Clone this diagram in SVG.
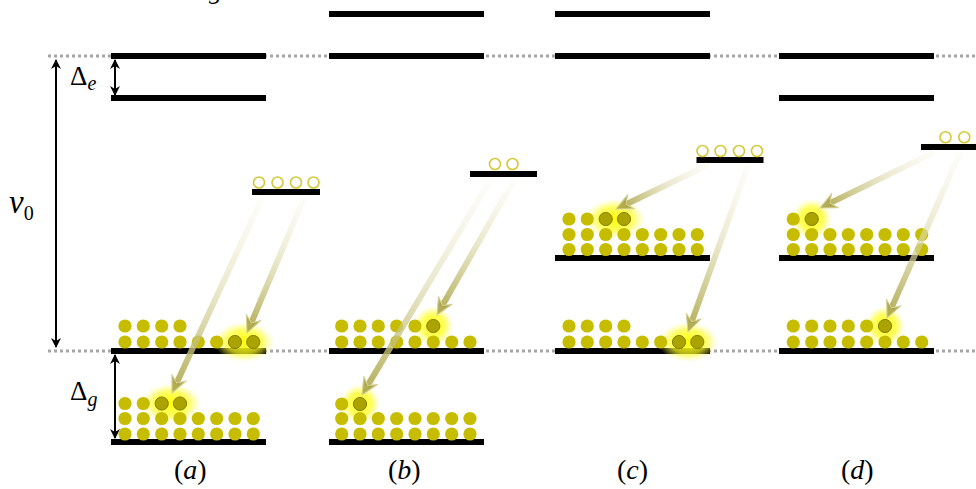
<svg xmlns="http://www.w3.org/2000/svg" xmlns:xlink="http://www.w3.org/1999/xlink" width="976" height="489" viewBox="0 0 976 489">
<style>
.bar{fill:#000}
.dot{fill:#c6bd00}
.hot{fill:#aba300;stroke:#857f00;stroke-width:1}
.open{fill:#fff;stroke:#d4c93a;stroke-width:1.6}
.dotted{stroke:#a6a6a6;stroke-width:3;stroke-dasharray:3 3;fill:none}
.dim{stroke:#000;stroke-width:2;fill:none}
.math{font-family:"Liberation Serif","DejaVu Serif",serif;fill:#000}
.it{font-style:italic}
.shaft{fill:url(#sg)}
.head{fill:#a69f3c;fill-opacity:0.85;stroke:#d6d29a;stroke-width:1}
</style>
<defs>
<circle id="d" r="6.6"/>
<radialGradient id="glow">
<stop offset="0" stop-color="#ffff00" stop-opacity="1"/>
<stop offset="0.6" stop-color="#ffff20" stop-opacity="0.7"/>
<stop offset="1" stop-color="#ffff60" stop-opacity="0"/>
</radialGradient>
<linearGradient id="sg" x1="0" y1="0" x2="1" y2="0">
<stop offset="0" stop-color="#f4f3e0" stop-opacity="0.2"/>
<stop offset="0.5" stop-color="#dedbb0" stop-opacity="0.65"/>
<stop offset="1" stop-color="#b0aa50" stop-opacity="0.9"/>
</linearGradient>
<marker id="ah" viewBox="0 0 10 10" refX="9" refY="5" markerWidth="5" markerHeight="5" orient="auto-start-reverse">
<path d="M0,0 L10,5 L0,10 L3,5 z" fill="#000"/>
</marker>
</defs>

<!-- clipped label fragment at top -->
<text class="math it" x="209" y="-1" font-size="26">g</text>

<!-- reference dotted lines -->
<g id="guides">
<line class="dotted" x1="48" y1="56" x2="976" y2="56"/>
<line class="dotted" x1="48" y1="351" x2="976" y2="351"/>
</g>

<!-- dimension arrows -->
<g id="dimensions">
<line class="dim" x1="56" y1="60" x2="56" y2="347" marker-start="url(#ah)" marker-end="url(#ah)"/>
<line class="dim" x1="115" y1="60" x2="115" y2="95" marker-start="url(#ah)" marker-end="url(#ah)"/>
<line class="dim" x1="115" y1="355" x2="115" y2="438" marker-start="url(#ah)" marker-end="url(#ah)"/>
<text class="math" x="9" y="213" font-size="33"><tspan class="it">ν</tspan><tspan font-size="20" dy="7">0</tspan></text>
<text class="math" x="70" y="85" font-size="27">Δ<tspan class="it" font-size="20" dy="5">e</tspan></text>
<text class="math" x="70" y="400" font-size="27">Δ<tspan class="it" font-size="20" dy="6">g</tspan></text>
</g>

<!-- panel (a) -->
<g id="panel-a">
<rect class="bar" x="111" y="53" width="155" height="6"/>
<rect class="bar" x="111" y="95" width="155" height="6"/>
<rect class="bar" x="111" y="348" width="155" height="6"/>
<rect class="bar" x="111" y="439" width="155" height="6"/>
<rect class="bar" x="252" y="189" width="68" height="6"/>
<g class="open">
<circle cx="259" cy="182.5" r="5.5"/><circle cx="277.5" cy="182.5" r="5.5"/><circle cx="296" cy="182.5" r="5.5"/><circle cx="313.5" cy="182.5" r="5.5"/>
</g>
<ellipse cx="244" cy="342" rx="30" ry="20" fill="url(#glow)"/>
<ellipse cx="171" cy="403.5" rx="30" ry="20" fill="url(#glow)"/>
<g class="dot">
<use href="#d" x="125" y="326"/><use href="#d" x="143.3" y="326"/><use href="#d" x="161.7" y="326"/><use href="#d" x="180" y="326"/>
<use href="#d" x="125" y="342"/><use href="#d" x="143.3" y="342"/><use href="#d" x="161.7" y="342"/><use href="#d" x="180" y="342"/><use href="#d" x="198.3" y="342"/><use href="#d" x="216.7" y="342"/>
<use href="#d" x="125" y="403.5"/><use href="#d" x="143.3" y="403.5"/>
<use href="#d" x="125" y="418.5"/><use href="#d" x="143.3" y="418.5"/><use href="#d" x="161.7" y="418.5"/><use href="#d" x="180" y="418.5"/><use href="#d" x="198.3" y="418.5"/><use href="#d" x="216.7" y="418.5"/><use href="#d" x="235" y="418.5"/><use href="#d" x="253.3" y="418.5"/>
<use href="#d" x="125" y="434"/><use href="#d" x="143.3" y="434"/><use href="#d" x="161.7" y="434"/><use href="#d" x="180" y="434"/><use href="#d" x="198.3" y="434"/><use href="#d" x="216.7" y="434"/><use href="#d" x="235" y="434"/><use href="#d" x="253.3" y="434"/>
</g>
<g class="hot">
<use href="#d" x="235" y="342"/><use href="#d" x="253.3" y="342"/>
<use href="#d" x="161.7" y="403.5"/><use href="#d" x="180" y="403.5"/>
</g>
<text class="math" x="174" y="479" font-size="28">(<tspan class="it">a</tspan>)</text>
</g>

<!-- panel (b) -->
<g id="panel-b">
<rect class="bar" x="329" y="11" width="155" height="6"/>
<rect class="bar" x="329" y="53" width="155" height="6"/>
<rect class="bar" x="329" y="348" width="155" height="6"/>
<rect class="bar" x="329" y="439" width="155" height="6"/>
<rect class="bar" x="470" y="171" width="67" height="6"/>
<g class="open">
<circle cx="495" cy="164" r="5.5"/><circle cx="512.5" cy="164" r="5.5"/>
</g>
<circle cx="433.3" cy="326" r="20" fill="url(#glow)"/>
<circle cx="360" cy="404" r="20" fill="url(#glow)"/>
<g class="dot">
<use href="#d" x="341.7" y="326"/><use href="#d" x="360" y="326"/><use href="#d" x="378.3" y="326"/><use href="#d" x="396.7" y="326"/><use href="#d" x="415" y="326"/>
<use href="#d" x="341.7" y="342"/><use href="#d" x="360" y="342"/><use href="#d" x="378.3" y="342"/><use href="#d" x="396.7" y="342"/><use href="#d" x="415" y="342"/><use href="#d" x="433.3" y="342"/><use href="#d" x="451.7" y="342"/><use href="#d" x="470" y="342"/>
<use href="#d" x="341.7" y="404"/>
<use href="#d" x="341.7" y="418.5"/><use href="#d" x="360" y="418.5"/><use href="#d" x="378.3" y="418.5"/><use href="#d" x="396.7" y="418.5"/><use href="#d" x="415" y="418.5"/><use href="#d" x="433.3" y="418.5"/><use href="#d" x="451.7" y="418.5"/><use href="#d" x="470" y="418.5"/>
<use href="#d" x="341.7" y="434"/><use href="#d" x="360" y="434"/><use href="#d" x="378.3" y="434"/><use href="#d" x="396.7" y="434"/><use href="#d" x="415" y="434"/><use href="#d" x="433.3" y="434"/><use href="#d" x="451.7" y="434"/><use href="#d" x="470" y="434"/>
</g>
<g class="hot">
<use href="#d" x="433.3" y="326"/>
<use href="#d" x="360" y="404"/>
</g>
<text class="math" x="388" y="479" font-size="28">(<tspan class="it">b</tspan>)</text>
</g>

<!-- panel (c) -->
<g id="panel-c">
<rect class="bar" x="555" y="11" width="155" height="6"/>
<rect class="bar" x="555" y="53" width="155" height="6"/>
<rect class="bar" x="555" y="255" width="155" height="6"/>
<rect class="bar" x="555" y="348" width="155" height="6"/>
<rect class="bar" x="696.5" y="157" width="67" height="6"/>
<g class="open">
<circle cx="702.5" cy="151" r="5.5"/><circle cx="720.5" cy="151" r="5.5"/><circle cx="739" cy="151" r="5.5"/><circle cx="757" cy="151" r="5.5"/>
</g>
<ellipse cx="615" cy="219" rx="30" ry="20" fill="url(#glow)"/>
<ellipse cx="688" cy="342" rx="30" ry="20" fill="url(#glow)"/>
<g class="dot">
<use href="#d" x="569" y="219"/><use href="#d" x="587.3" y="219"/>
<use href="#d" x="569" y="234.5"/><use href="#d" x="587.3" y="234.5"/><use href="#d" x="605.7" y="234.5"/><use href="#d" x="624" y="234.5"/><use href="#d" x="642.3" y="234.5"/><use href="#d" x="660.7" y="234.5"/><use href="#d" x="679" y="234.5"/><use href="#d" x="697.3" y="234.5"/>
<use href="#d" x="569" y="249.5"/><use href="#d" x="587.3" y="249.5"/><use href="#d" x="605.7" y="249.5"/><use href="#d" x="624" y="249.5"/><use href="#d" x="642.3" y="249.5"/><use href="#d" x="660.7" y="249.5"/><use href="#d" x="679" y="249.5"/><use href="#d" x="697.3" y="249.5"/>
<use href="#d" x="569" y="326"/><use href="#d" x="587.3" y="326"/><use href="#d" x="605.7" y="326"/><use href="#d" x="624" y="326"/>
<use href="#d" x="569" y="342"/><use href="#d" x="587.3" y="342"/><use href="#d" x="605.7" y="342"/><use href="#d" x="624" y="342"/><use href="#d" x="642.3" y="342"/><use href="#d" x="660.7" y="342"/>
</g>
<g class="hot">
<use href="#d" x="605.7" y="219"/><use href="#d" x="624" y="219"/>
<use href="#d" x="679" y="342"/><use href="#d" x="697.3" y="342"/>
</g>
<text class="math" x="617" y="479" font-size="28">(<tspan class="it">c</tspan>)</text>
</g>

<!-- panel (d) -->
<g id="panel-d">
<rect class="bar" x="779" y="53" width="155" height="6"/>
<rect class="bar" x="779" y="95" width="155" height="6"/>
<rect class="bar" x="779" y="255" width="155" height="6"/>
<rect class="bar" x="779" y="348" width="155" height="6"/>
<rect class="bar" x="921" y="144" width="55" height="6"/>
<g class="open">
<circle cx="945.5" cy="137.3" r="5.5"/><circle cx="964.3" cy="137.3" r="5.5"/>
</g>
<circle cx="811.7" cy="219" r="20" fill="url(#glow)"/>
<circle cx="885" cy="326" r="20" fill="url(#glow)"/>
<g class="dot">
<use href="#d" x="793.3" y="219"/>
<use href="#d" x="793.3" y="234.5"/><use href="#d" x="811.7" y="234.5"/><use href="#d" x="830" y="234.5"/><use href="#d" x="848.3" y="234.5"/><use href="#d" x="866.7" y="234.5"/><use href="#d" x="885" y="234.5"/><use href="#d" x="903.3" y="234.5"/><use href="#d" x="921.7" y="234.5"/>
<use href="#d" x="793.3" y="249.5"/><use href="#d" x="811.7" y="249.5"/><use href="#d" x="830" y="249.5"/><use href="#d" x="848.3" y="249.5"/><use href="#d" x="866.7" y="249.5"/><use href="#d" x="885" y="249.5"/><use href="#d" x="903.3" y="249.5"/><use href="#d" x="921.7" y="249.5"/>
<use href="#d" x="793.3" y="326"/><use href="#d" x="811.7" y="326"/><use href="#d" x="830" y="326"/><use href="#d" x="848.3" y="326"/><use href="#d" x="866.7" y="326"/>
<use href="#d" x="793.3" y="342"/><use href="#d" x="811.7" y="342"/><use href="#d" x="830" y="342"/><use href="#d" x="848.3" y="342"/><use href="#d" x="866.7" y="342"/><use href="#d" x="885" y="342"/><use href="#d" x="903.3" y="342"/><use href="#d" x="921.7" y="342"/>
</g>
<g class="hot">
<use href="#d" x="811.7" y="219"/>
<use href="#d" x="885" y="326"/>
</g>
<text class="math" x="841" y="479" font-size="28">(<tspan class="it">d</tspan>)</text>
</g>

<!-- transition arrows (connectors) -->
<g id="connectors">
<g transform="translate(172,393) rotate(114.8)"><rect class="shaft" x="-215" y="-3" width="205" height="6"/><path class="head" d="M0,0 L-17,-8 L-11,0 L-17,8 z"/></g>
<g transform="translate(247,333) rotate(112.9)"><rect class="shaft" x="-147" y="-3" width="137" height="6"/><path class="head" d="M0,0 L-17,-8 L-11,0 L-17,8 z"/></g>
<g transform="translate(362,395) rotate(120.8)"><rect class="shaft" x="-250" y="-3" width="240" height="6"/><path class="head" d="M0,0 L-17,-8 L-11,0 L-17,8 z"/></g>
<g transform="translate(437,315) rotate(119.7)"><rect class="shaft" x="-155" y="-3" width="145" height="6"/><path class="head" d="M0,0 L-17,-8 L-11,0 L-17,8 z"/></g>
<g transform="translate(616,209) rotate(154.4)"><rect class="shaft" x="-102" y="-3" width="92" height="6"/><path class="head" d="M0,0 L-17,-8 L-11,0 L-17,8 z"/></g>
<g transform="translate(688,332) rotate(109.8)"><rect class="shaft" x="-177" y="-3" width="167" height="6"/><path class="head" d="M0,0 L-17,-8 L-11,0 L-17,8 z"/></g>
<g transform="translate(820,208) rotate(154)"><rect class="shaft" x="-128" y="-3" width="118" height="6"/><path class="head" d="M0,0 L-17,-8 L-11,0 L-17,8 z"/></g>
<g transform="translate(887,318) rotate(113.9)"><rect class="shaft" x="-180" y="-3" width="170" height="6"/><path class="head" d="M0,0 L-17,-8 L-11,0 L-17,8 z"/></g>
</g>
</svg>
